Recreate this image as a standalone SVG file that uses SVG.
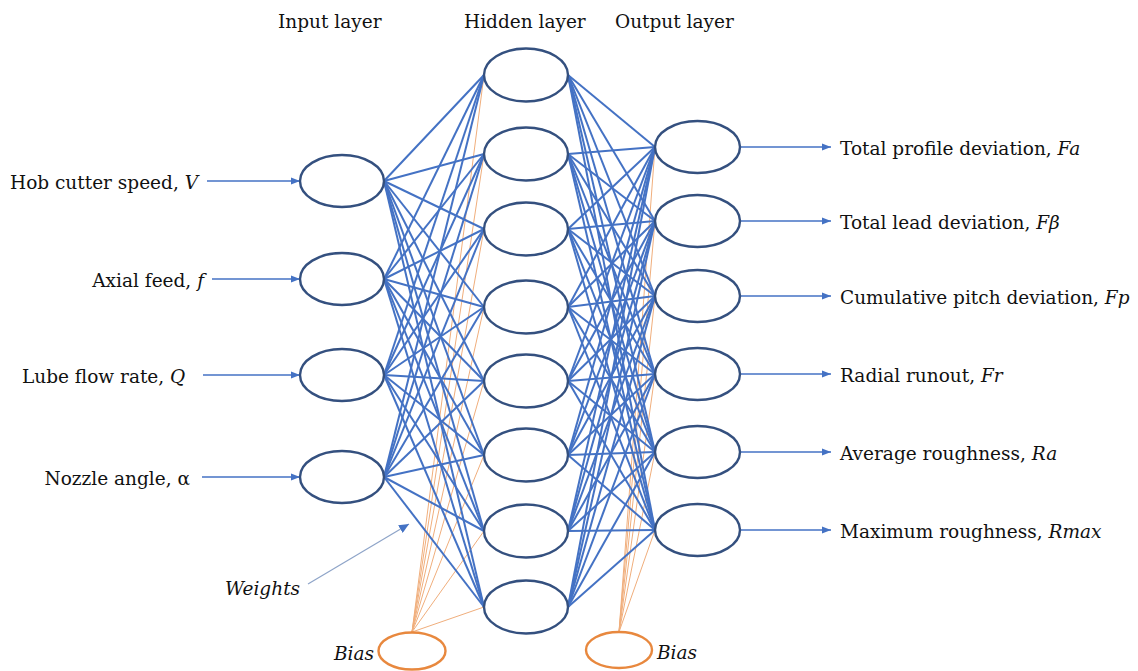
<svg xmlns="http://www.w3.org/2000/svg" width="1138" height="671" viewBox="0 0 1138 671">
<defs>
<marker id="ah" markerWidth="9" markerHeight="8" refX="9" refY="4" orient="auto" markerUnits="userSpaceOnUse"><path d="M0,0.5 L9,4 L0,7.5 Z" fill="#4472C4"/></marker>
<marker id="ahw" markerWidth="10" markerHeight="9" refX="10" refY="4.5" orient="auto" markerUnits="userSpaceOnUse"><path d="M0,0 L10,4.5 L0,9 Z" fill="#4472C4"/></marker>
</defs>
<style>
.node{fill:#fff;stroke:#34507F;stroke-width:2.4}
.bias{fill:#fff;stroke:#E8883E;stroke-width:2.4}
.w{stroke:#4472C4;stroke-width:2;fill:none}
.b{stroke:#F0AE7C;stroke-width:1;fill:none}
.io{stroke:#4472C4;stroke-width:1.6;fill:none;marker-end:url(#ah)}
.t{font-family:'DejaVu Serif',serif;font-size:18.5px;fill:#111}
.it{font-style:italic}
</style>
<rect width="1138" height="671" fill="#fff"/>

<g id="headers" class="t">
<text x="278" y="28">Input layer</text>
<text x="464" y="28">Hidden layer</text>
<text x="615" y="28">Output layer</text>
</g>

<g id="connectors">
<g>
<line class="b" x1="412" y1="632" x2="484" y2="75"/>
<line class="b" x1="412" y1="632" x2="484" y2="154"/>
<line class="b" x1="412" y1="632" x2="484" y2="229"/>
<line class="b" x1="412" y1="632" x2="484" y2="307"/>
<line class="b" x1="412" y1="632" x2="484" y2="381"/>
<line class="b" x1="412" y1="632" x2="484" y2="455"/>
<line class="b" x1="412" y1="632" x2="484" y2="531"/>
<line class="b" x1="412" y1="632" x2="484" y2="607"/>
</g>
<g>
<line class="b" x1="619" y1="632" x2="655" y2="147"/>
<line class="b" x1="619" y1="632" x2="655" y2="221"/>
<line class="b" x1="619" y1="632" x2="655" y2="296"/>
<line class="b" x1="619" y1="632" x2="655" y2="374"/>
<line class="b" x1="619" y1="632" x2="655" y2="452"/>
<line class="b" x1="619" y1="632" x2="655" y2="530"/>
</g>
<g>
<line class="w" x1="384" y1="181" x2="484" y2="75"/><line class="w" x1="384" y1="181" x2="484" y2="154"/><line class="w" x1="384" y1="181" x2="484" y2="229"/><line class="w" x1="384" y1="181" x2="484" y2="307"/><line class="w" x1="384" y1="181" x2="484" y2="381"/><line class="w" x1="384" y1="181" x2="484" y2="455"/><line class="w" x1="384" y1="181" x2="484" y2="531"/><line class="w" x1="384" y1="181" x2="484" y2="607"/>
<line class="w" x1="384" y1="279" x2="484" y2="75"/><line class="w" x1="384" y1="279" x2="484" y2="154"/><line class="w" x1="384" y1="279" x2="484" y2="229"/><line class="w" x1="384" y1="279" x2="484" y2="307"/><line class="w" x1="384" y1="279" x2="484" y2="381"/><line class="w" x1="384" y1="279" x2="484" y2="455"/><line class="w" x1="384" y1="279" x2="484" y2="531"/><line class="w" x1="384" y1="279" x2="484" y2="607"/>
<line class="w" x1="384" y1="375" x2="484" y2="75"/><line class="w" x1="384" y1="375" x2="484" y2="154"/><line class="w" x1="384" y1="375" x2="484" y2="229"/><line class="w" x1="384" y1="375" x2="484" y2="307"/><line class="w" x1="384" y1="375" x2="484" y2="381"/><line class="w" x1="384" y1="375" x2="484" y2="455"/><line class="w" x1="384" y1="375" x2="484" y2="531"/><line class="w" x1="384" y1="375" x2="484" y2="607"/>
<line class="w" x1="384" y1="477" x2="484" y2="75"/><line class="w" x1="384" y1="477" x2="484" y2="154"/><line class="w" x1="384" y1="477" x2="484" y2="229"/><line class="w" x1="384" y1="477" x2="484" y2="307"/><line class="w" x1="384" y1="477" x2="484" y2="381"/><line class="w" x1="384" y1="477" x2="484" y2="455"/><line class="w" x1="384" y1="477" x2="484" y2="531"/><line class="w" x1="384" y1="477" x2="484" y2="607"/>
</g>
<g>
<line class="w" x1="568" y1="75" x2="655" y2="147"/><line class="w" x1="568" y1="75" x2="655" y2="221"/><line class="w" x1="568" y1="75" x2="655" y2="296"/><line class="w" x1="568" y1="75" x2="655" y2="374"/><line class="w" x1="568" y1="75" x2="655" y2="452"/><line class="w" x1="568" y1="75" x2="655" y2="530"/>
<line class="w" x1="568" y1="154" x2="655" y2="147"/><line class="w" x1="568" y1="154" x2="655" y2="221"/><line class="w" x1="568" y1="154" x2="655" y2="296"/><line class="w" x1="568" y1="154" x2="655" y2="374"/><line class="w" x1="568" y1="154" x2="655" y2="452"/><line class="w" x1="568" y1="154" x2="655" y2="530"/>
<line class="w" x1="568" y1="229" x2="655" y2="147"/><line class="w" x1="568" y1="229" x2="655" y2="221"/><line class="w" x1="568" y1="229" x2="655" y2="296"/><line class="w" x1="568" y1="229" x2="655" y2="374"/><line class="w" x1="568" y1="229" x2="655" y2="452"/><line class="w" x1="568" y1="229" x2="655" y2="530"/>
<line class="w" x1="568" y1="307" x2="655" y2="147"/><line class="w" x1="568" y1="307" x2="655" y2="221"/><line class="w" x1="568" y1="307" x2="655" y2="296"/><line class="w" x1="568" y1="307" x2="655" y2="374"/><line class="w" x1="568" y1="307" x2="655" y2="452"/><line class="w" x1="568" y1="307" x2="655" y2="530"/>
<line class="w" x1="568" y1="381" x2="655" y2="147"/><line class="w" x1="568" y1="381" x2="655" y2="221"/><line class="w" x1="568" y1="381" x2="655" y2="296"/><line class="w" x1="568" y1="381" x2="655" y2="374"/><line class="w" x1="568" y1="381" x2="655" y2="452"/><line class="w" x1="568" y1="381" x2="655" y2="530"/>
<line class="w" x1="568" y1="455" x2="655" y2="147"/><line class="w" x1="568" y1="455" x2="655" y2="221"/><line class="w" x1="568" y1="455" x2="655" y2="296"/><line class="w" x1="568" y1="455" x2="655" y2="374"/><line class="w" x1="568" y1="455" x2="655" y2="452"/><line class="w" x1="568" y1="455" x2="655" y2="530"/>
<line class="w" x1="568" y1="531" x2="655" y2="147"/><line class="w" x1="568" y1="531" x2="655" y2="221"/><line class="w" x1="568" y1="531" x2="655" y2="296"/><line class="w" x1="568" y1="531" x2="655" y2="374"/><line class="w" x1="568" y1="531" x2="655" y2="452"/><line class="w" x1="568" y1="531" x2="655" y2="530"/>
<line class="w" x1="568" y1="607" x2="655" y2="147"/><line class="w" x1="568" y1="607" x2="655" y2="221"/><line class="w" x1="568" y1="607" x2="655" y2="296"/><line class="w" x1="568" y1="607" x2="655" y2="374"/><line class="w" x1="568" y1="607" x2="655" y2="452"/><line class="w" x1="568" y1="607" x2="655" y2="530"/>
</g>
<line class="io" x1="207" y1="181" x2="300" y2="181"/>
<line class="io" x1="212" y1="279" x2="300" y2="279"/>
<line class="io" x1="203" y1="375" x2="300" y2="375"/>
<line class="io" x1="202" y1="477" x2="300" y2="477"/>
<line class="io" x1="740" y1="147" x2="831" y2="147"/>
<line class="io" x1="740" y1="221" x2="831" y2="221"/>
<line class="io" x1="740" y1="296" x2="831" y2="296"/>
<line class="io" x1="740" y1="374" x2="831" y2="374"/>
<line class="io" x1="740" y1="452" x2="831" y2="452"/>
<line class="io" x1="740" y1="530" x2="831" y2="530"/>
<line x1="308" y1="584" x2="409" y2="524" stroke="#8EA4C8" stroke-width="1.2" marker-end="url(#ahw)"/>
</g>

<g id="input-nodes">
<g id="in1"><ellipse class="node" cx="342" cy="181" rx="42" ry="26"/></g>
<g id="in2"><ellipse class="node" cx="342" cy="279" rx="42" ry="26"/></g>
<g id="in3"><ellipse class="node" cx="342" cy="375" rx="42" ry="26"/></g>
<g id="in4"><ellipse class="node" cx="342" cy="477" rx="42" ry="26"/></g>
</g>
<g id="hidden-nodes">
<g id="h1"><ellipse class="node" cx="526" cy="75" rx="42" ry="26.5"/></g>
<g id="h2"><ellipse class="node" cx="526" cy="154" rx="42" ry="26.5"/></g>
<g id="h3"><ellipse class="node" cx="526" cy="229" rx="42" ry="26.5"/></g>
<g id="h4"><ellipse class="node" cx="526" cy="307" rx="42" ry="26.5"/></g>
<g id="h5"><ellipse class="node" cx="526" cy="381" rx="42" ry="26.5"/></g>
<g id="h6"><ellipse class="node" cx="526" cy="455" rx="42" ry="26.5"/></g>
<g id="h7"><ellipse class="node" cx="526" cy="531" rx="42" ry="26.5"/></g>
<g id="h8"><ellipse class="node" cx="526" cy="607" rx="42" ry="26.5"/></g>
</g>
<g id="output-nodes">
<g id="o1"><ellipse class="node" cx="697.5" cy="147" rx="42.5" ry="26"/></g>
<g id="o2"><ellipse class="node" cx="697.5" cy="221" rx="42.5" ry="26"/></g>
<g id="o3"><ellipse class="node" cx="697.5" cy="296" rx="42.5" ry="26"/></g>
<g id="o4"><ellipse class="node" cx="697.5" cy="374" rx="42.5" ry="26"/></g>
<g id="o5"><ellipse class="node" cx="697.5" cy="452" rx="42.5" ry="26"/></g>
<g id="o6"><ellipse class="node" cx="697.5" cy="530" rx="42.5" ry="26"/></g>
</g>
<g id="bias-left"><ellipse class="bias" cx="412" cy="651" rx="33.5" ry="18.5"/><text class="t it" x="374" y="660" text-anchor="end">Bias</text></g>
<g id="bias-right"><ellipse class="bias" cx="619" cy="650" rx="33" ry="18"/><text class="t it" x="657" y="659">Bias</text></g>

<g id="input-labels" class="t">
<text x="10" y="189">Hob cutter speed, <tspan class="it">V</tspan></text>
<text x="204" y="287" text-anchor="end">Axial feed, <tspan class="it">f</tspan></text>
<text x="22" y="383">Lube flow rate, <tspan class="it">Q</tspan></text>
<text x="190" y="485" text-anchor="end">Nozzle angle, α</text>
</g>
<g id="output-labels" class="t">
<text x="840" y="155">Total profile deviation, <tspan class="it">Fa</tspan></text>
<text x="840" y="229">Total lead deviation, <tspan class="it">Fβ</tspan></text>
<text x="840" y="304">Cumulative pitch deviation, <tspan class="it">Fp</tspan></text>
<text x="840" y="382">Radial runout, <tspan class="it">Fr</tspan></text>
<text x="840" y="460">Average roughness, <tspan class="it">Ra</tspan></text>
<text x="840" y="538">Maximum roughness, <tspan class="it">Rmax</tspan></text>
</g>
<g id="weights-label"><text class="t it" x="225" y="595">Weights</text></g>
</svg>
